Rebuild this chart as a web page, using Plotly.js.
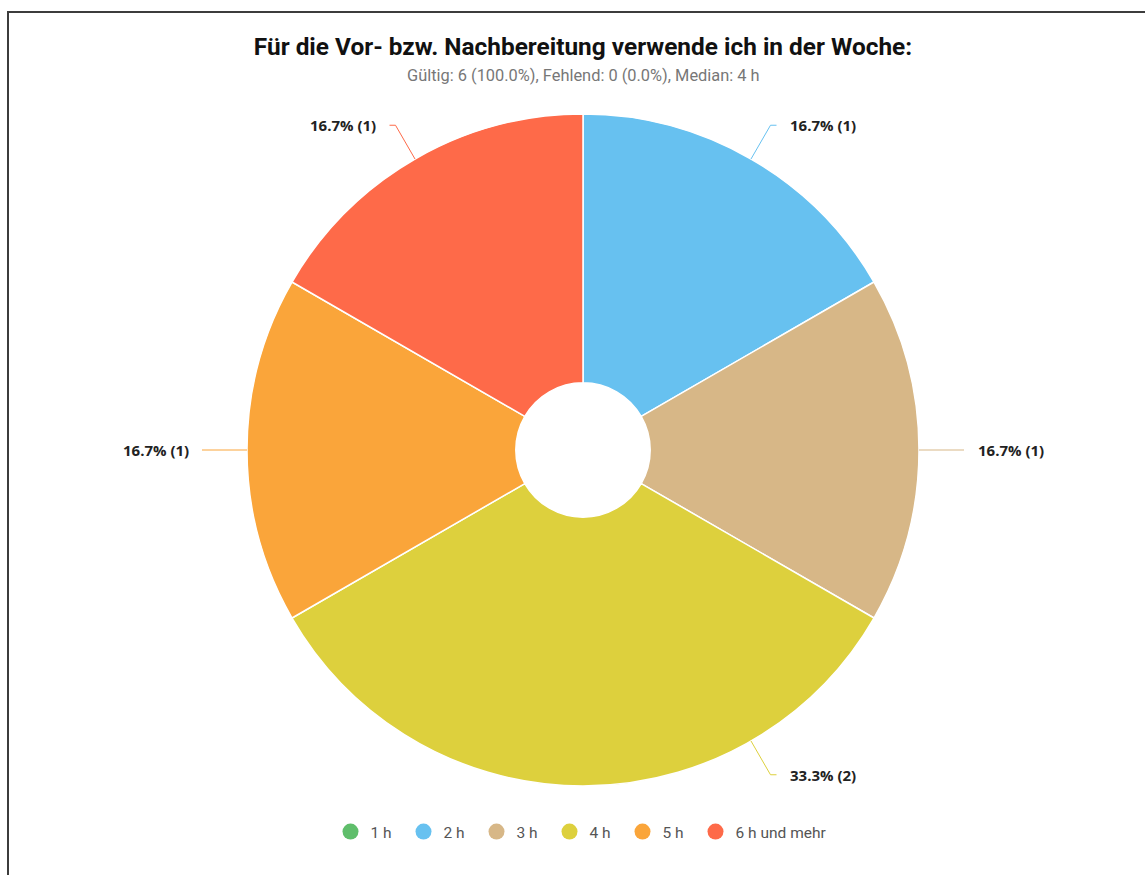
<!DOCTYPE html>
<html>
<head>
<meta charset="utf-8">
<script src="https://cdn.plot.ly/plotly-3.0.1.min.js"></script>
<style>
  html, body { margin: 0; padding: 0; background: #fff; overflow: hidden; }
  #chart { position: absolute; left: 0; top: 0; width: 1145px; height: 875px; }
  #frame { position: absolute; left: 7px; top: 11px; width: 1300px; height: 1000px;
           border: 2px solid #3c3c3c; pointer-events: none; box-sizing: border-box; }
</style>
</head>
<body>
<div id="chart"></div>
<div id="frame"></div>
<script>
// ---- data ----
const categories = ['1 h', '2 h', '3 h', '4 h', '5 h', '6 h und mehr'];
const counts = [0, 1, 1, 2, 1, 1];
const colors = ['#5FBE6B', '#67C1F0', '#D7B787', '#DDD03D', '#FAA53A', '#FE6A49'];
const titleText = 'Für die Vor- bzw. Nachbereitung verwende ich in der Woche:';
const subtitleText = 'Gültig: 6 (100.0%), Fehlend: 0 (0.0%), Median: 4 h';

// ---- layout geometry ----
const W = 1145, H = 875;
const M = { l: 247, r: 226, t: 114, b: 89 };
const plotW = W - M.l - M.r; // 672
const plotH = H - M.t - M.b; // 672
const R = 0.5;                      // pie radius in paper units
const radialOut = 375 / 336;        // leader line radial extent
const horiz = 6 / plotW;            // horizontal leader segment
const textGap = 11.5;               // px

const total = counts.reduce((a, b) => a + b, 0);

const traces = [{
  type: 'pie',
  labels: categories,
  values: counts,
  sort: false,
  direction: 'clockwise',
  rotation: 0,
  hole: 0.2,
  marker: { colors: colors, line: { color: '#ffffff', width: 1.5 } },
  textinfo: 'none',
  hoverinfo: 'label+percent+value',
  showlegend: false,
  domain: { x: [0, 1], y: [0, 1] }
}];

// legend entries with circular symbols
categories.forEach((c, i) => {
  traces.push({
    type: 'scatter', mode: 'markers', x: [null], y: [null], name: c,
    marker: { color: colors[i], size: 16, symbol: 'circle' },
    showlegend: true, hoverinfo: 'skip'
  });
});

// outside labels with leader lines, computed from the data
const annotations = [];
const shapes = [];
let cum = 0;
counts.forEach((v, i) => {
  if (v <= 0) { return; }
  let mid = (cum + v / 2) / total * 360;
  cum += v;
  // keep labels off the bottom (legend area): nudge toward right side
  if (Math.abs(mid - 180) < 20) mid = 150;
  const a = mid * Math.PI / 180;
  const sx = Math.sin(a), sy = Math.cos(a);
  const x0 = 0.5 + R * sx, y0 = 0.5 + R * sy;
  const x1 = 0.5 + R * radialOut * sx, y1 = 0.5 + R * radialOut * sy;
  const right = sx >= -1e-9;
  const x2 = x1 + (right ? horiz : -horiz);
  shapes.push({
    type: 'path', xref: 'paper', yref: 'paper',
    path: `M ${x0},${y0} L ${x1},${y1} L ${x2},${y1}`,
    line: { color: colors[i], width: 1 }
  });
  const pct = (v / total * 100).toFixed(1);
  annotations.push({
    xref: 'paper', yref: 'paper', x: x2, y: y1,
    xanchor: right ? 'left' : 'right', yanchor: 'middle',
    xshift: right ? textGap : -textGap,
    text: `<b>${pct}% (${v})</b>`, showarrow: false,
    font: { family: 'Open Sans, Noto Sans, sans-serif', size: 15, color: '#222' }
  });
});

annotations.push({
  xref: 'paper', yref: 'paper', x: 0.5, y: (H - M.b - 75) / plotH,
  xanchor: 'center', yanchor: 'middle', showarrow: false,
  text: subtitleText,
  font: { family: 'Roboto, sans-serif', size: 16.4, color: '#777' }
});

const layout = {
  width: W, height: H,
  margin: M,
  paper_bgcolor: '#ffffff', plot_bgcolor: 'rgba(0,0,0,0)',
  title: {
    text: '<b>' + titleText + '</b>',
    x: 0.5, xref: 'paper', xanchor: 'center',
    y: 1 - 46 / H, yref: 'container', yanchor: 'middle',
    font: { family: 'Roboto, sans-serif', size: 24.4, color: '#111' }
  },
  xaxis: { visible: false },
  yaxis: { visible: false },
  showlegend: true,
  legend: {
    orientation: 'h', x: (330.5 - M.l) / plotW, xanchor: 'left',
    y: (H - M.b - 832) / plotH, yanchor: 'middle',
    font: { family: 'Roboto, sans-serif', size: 15.5, color: '#555' },
    itemwidth: 30, entrywidth: 28, entrywidthmode: 'pixels',
    bgcolor: 'rgba(0,0,0,0)'
  },
  annotations: annotations,
  shapes: shapes
};

function unclipLegend() {
  document.querySelectorAll('#chart .legend [clip-path]').forEach(el => el.removeAttribute('clip-path'));
}

Plotly.newPlot('chart', traces, layout, { displayModeBar: false }).then(gd => {
  unclipLegend();
  gd.on('plotly_afterplot', unclipLegend);
});
</script>
</body>
</html>
